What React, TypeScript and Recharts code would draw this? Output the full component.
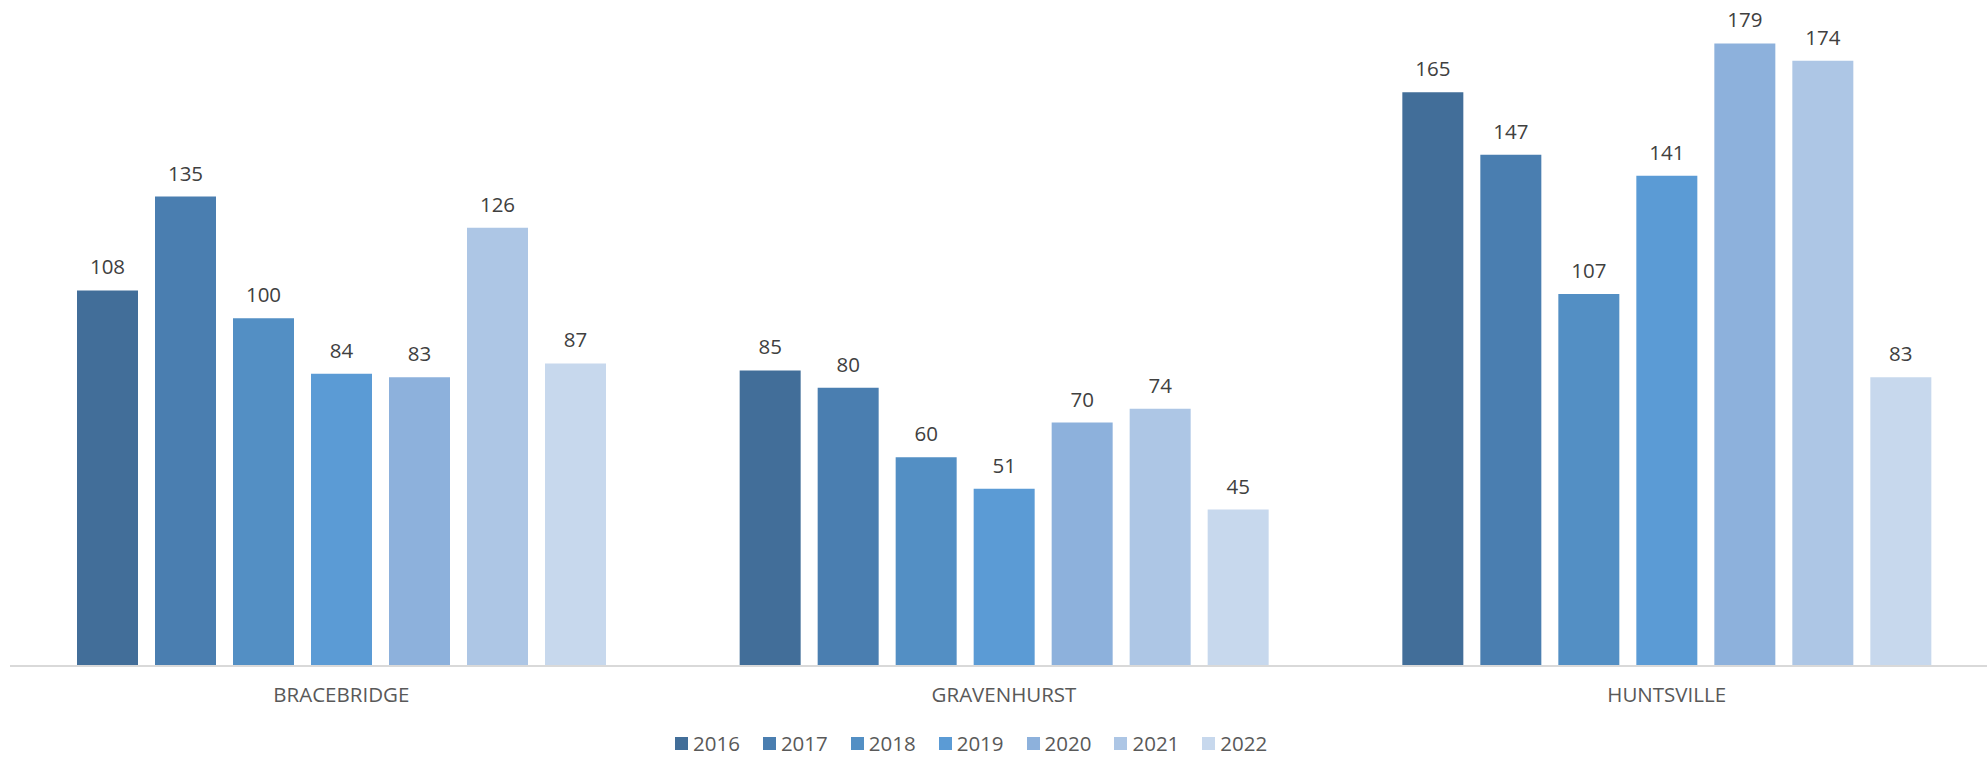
import React from 'react';
import { BarChart, Bar, XAxis, YAxis, LabelList } from 'recharts';

const towns = ['BRACEBRIDGE', 'GRAVENHURST', 'HUNTSVILLE'];
const years = ['2016', '2017', '2018', '2019', '2020', '2021', '2022'];

const v2016 = [108, 85, 165];
const v2017 = [135, 80, 147];
const v2018 = [100, 60, 107];
const v2019 = [84, 51, 141];
const v2020 = [83, 70, 179];
const v2021 = [126, 74, 174];
const v2022 = [87, 45, 83];

const seriesValues = [v2016, v2017, v2018, v2019, v2020, v2021, v2022];
const colors = ['#426E99', '#4A7EB0', '#538FC4', '#5B9BD5', '#8DB1DC', '#ADC6E5', '#C7D8ED'];

const FONT = '"Open Sans", "Noto Sans", sans-serif';

const data = towns.map((town, i) => {
  const row: Record<string, string | number> = { town };
  years.forEach((y, k) => {
    row[y] = seriesValues[k][i];
  });
  return row;
});

const App: React.FC = () => {
  return (
    <div
      style={{
        position: 'absolute',
        left: 0,
        top: 0,
        width: 1987,
        height: 758,
        overflow: 'hidden',
        background: '#fff',
        fontFamily: FONT,
      }}
    >
      <BarChart
        width={1998}
        height={758}
        data={data}
        margin={{ top: 40, right: 0, left: 10, bottom: 52 }}
        barCategoryGap={67}
        barGap={17}
      >
        <XAxis
          dataKey="town"
          height={40}
          axisLine={{ stroke: '#d9d9d9', strokeWidth: 2 }}
          tickLine={false}
          tickSize={0}
          tickMargin={21}
          tick={{ fill: '#595959', fontSize: 20.5, fontFamily: FONT }}
        />
        <YAxis hide domain={[0, 180]} width={0} />
        {years.map((y, k) => (
          <Bar key={y} dataKey={y} fill={colors[k]} isAnimationActive={false}>
            <LabelList
              dataKey={y}
              position="top"
              offset={16}
              fill="#404040"
              fontSize={20.5}
              fontFamily={FONT}
            />
          </Bar>
        ))}
      </BarChart>
      <div
        style={{
          position: 'absolute',
          left: 675,
          top: 732,
          display: 'flex',
          alignItems: 'center',
          height: 22,
        }}
      >
        {years.map((y, k) => (
          <div key={y} style={{ display: 'flex', alignItems: 'center', marginRight: 23 }}>
            <span style={{ width: 13, height: 13, background: colors[k], marginRight: 5 }} />
            <span style={{ color: '#595959', fontSize: 20.5, lineHeight: '22px' }}>{y}</span>
          </div>
        ))}
      </div>
    </div>
  );
};

export default App;
